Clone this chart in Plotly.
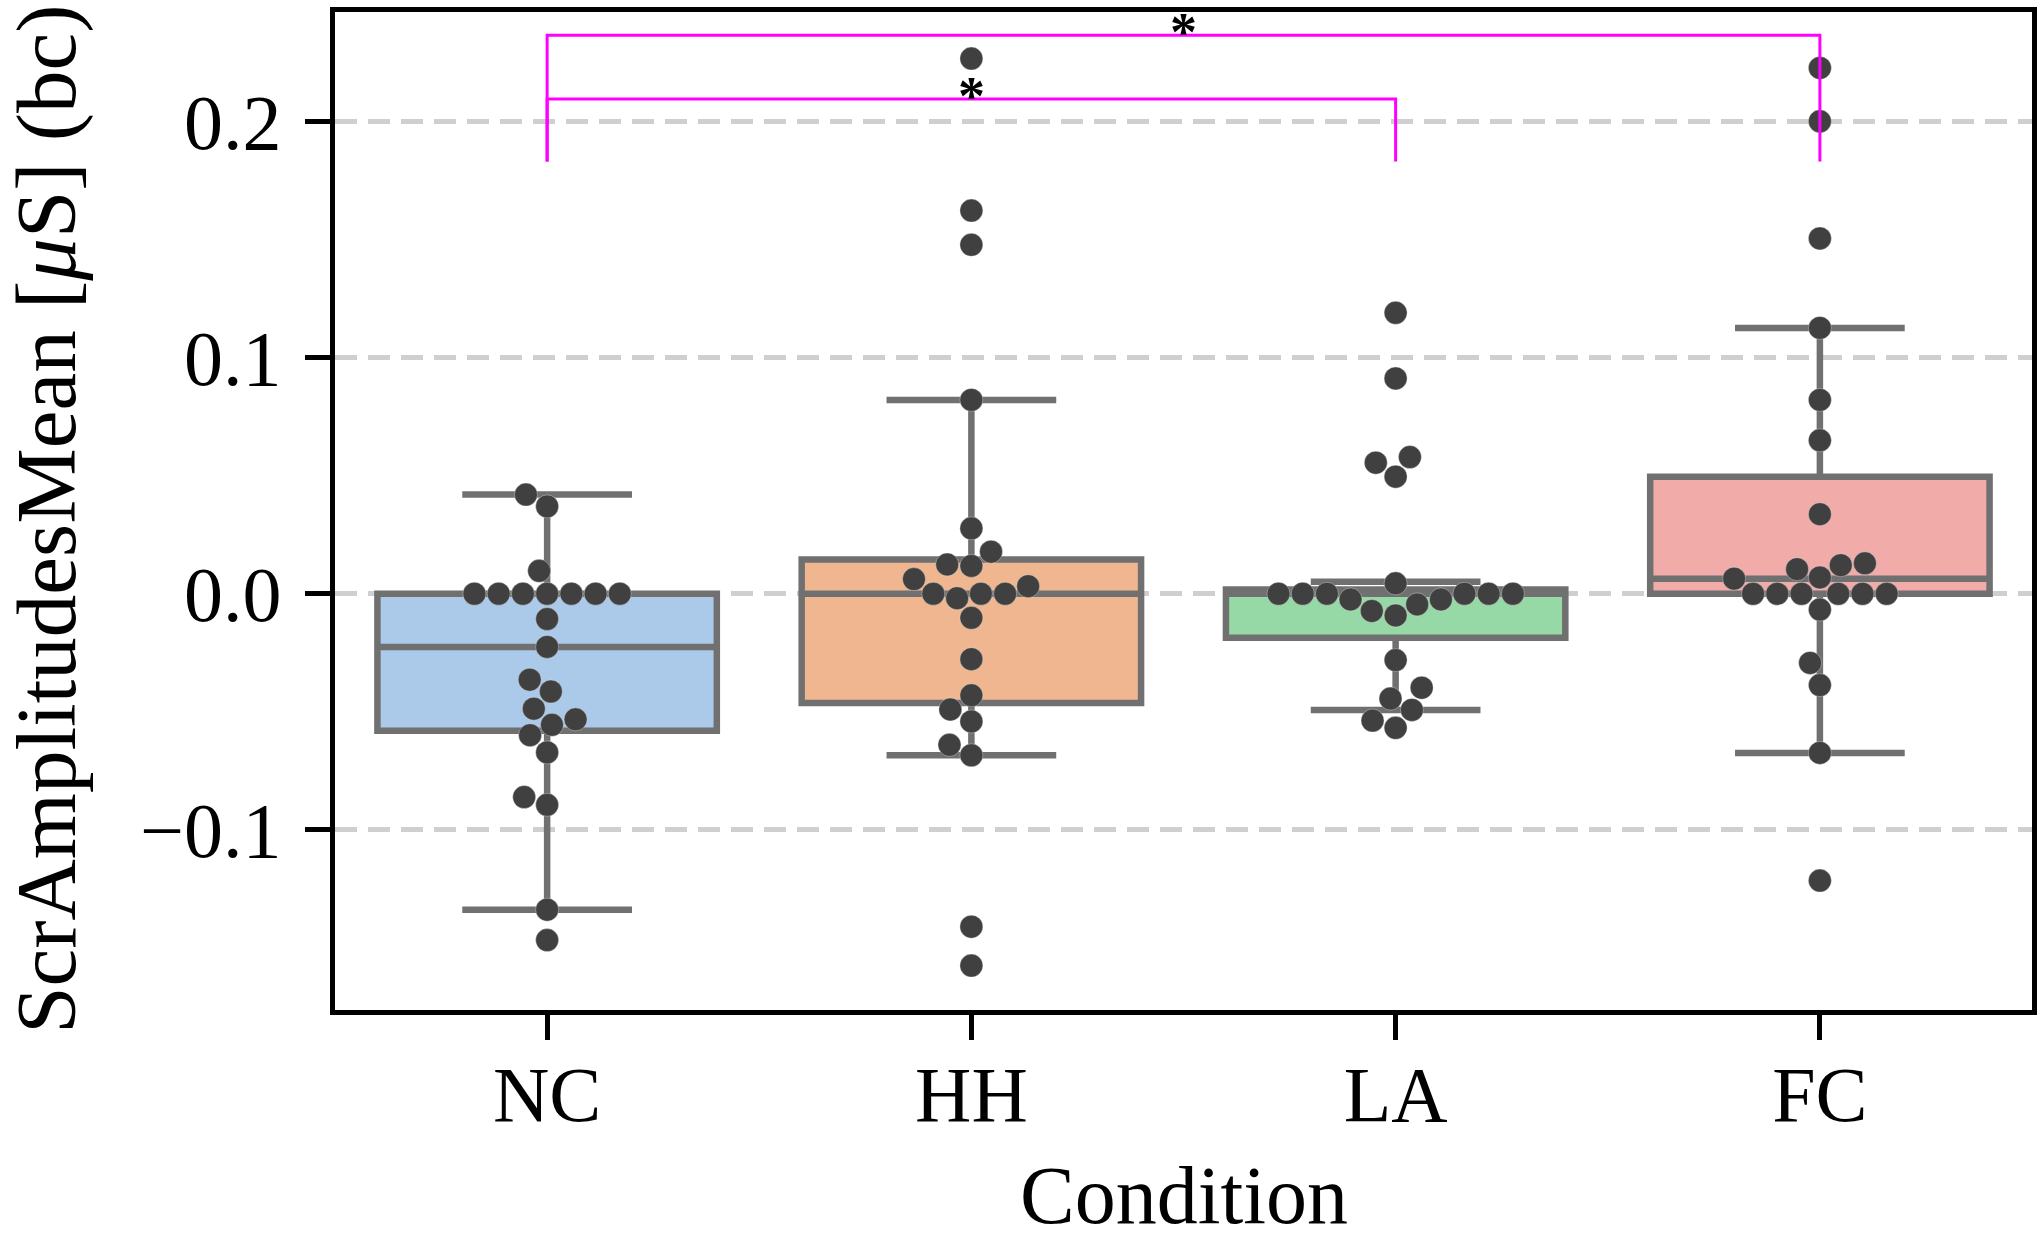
import numpy as np
import plotly.graph_objects as go

# ---------------- data ----------------
categories = ["NC", "HH", "LA", "FC"]

nc_values = [0.042, 0.037, 0.0097, 0, 0, 0, 0, 0, 0, 0, -0.0107, -0.0225, -0.0364,
             -0.0414, -0.0487, -0.0532, -0.0555, -0.0599, -0.0672, -0.0861, -0.0894,
             -0.1338, -0.1467]
hh_values = [0.2267, 0.1623, 0.1478, 0.0821, 0.0277, 0.0178, 0.0124, 0.0118, 0.0062,
             0.0032, 0, -0.0019, 0, 0, -0.0102, -0.0277, -0.043, -0.049, -0.0541,
             -0.064, -0.0684, -0.141, -0.1575]
la_values = [0.119, 0.0912, 0.0579, 0.0555, 0.0496, 0.0044, 0, 0, 0, 0, 0, 0,
             -0.0024, -0.0024, -0.0045, -0.0073, -0.0092, -0.0281, -0.0398, -0.0444,
             -0.0492, -0.0537, -0.0568]
fc_values = [0.2227, 0.2001, 0.1505, 0.1126, 0.0821, 0.065, 0.0337, 0.0129, 0.0121,
             0.0104, 0.0069, 0.0064, 0, 0, 0, 0, 0, 0, -0.0067, -0.0293, -0.0387,
             -0.0674, -0.1215]

# box statistics as drawn (seaborn-style boxes)
box_q1 = [-0.058, -0.0463, -0.0186, 0.0]
box_median = [-0.0225, 0.0, 0.0, 0.0064]
box_q3 = [0.0, 0.0145, 0.0018, 0.0496]
box_low = [-0.1338, -0.0684, -0.0492, -0.0674]
box_high = [0.042, 0.0821, 0.0051, 0.1126]

box_colors = ["#abc9e9", "#f0b690", "#97d9a6", "#f1aba9"]

# significance brackets: (from index, to index, top value, leg bottom value, label)
bracket_from = [0, 0]
bracket_to = [2, 3]
bracket_top = [0.2095, 0.2365]
bracket_leg = [0.1831, 0.1831]
bracket_label = ["*", "*"]

y_ticks = [-0.1, 0.0, 0.1, 0.2]
y_tick_text = ["\u22120.1", "0.0", "0.1", "0.2"]
y_range = [-0.1763, 0.2464]
x_range = [-0.5, 3.5]

# ---------------- layout geometry ----------------
W, H = 2044, 1240
ML, MR, MT, MB = 335, 7, 10, 230
plot_w = W - ML - MR
plot_h = H - MT - MB
ppx = plot_w / (x_range[1] - x_range[0])
ppy = plot_h / (y_range[1] - y_range[0])
DOT = 23
SPACING = 24.3

FONT = "Liberation Serif"
FS = 78


def swarm_offsets(vals, d_px):
    vals = np.asarray(vals, dtype=float)
    order = np.argsort(vals, kind="stable")
    placed = []
    offs = np.zeros(len(vals))
    for i in order:
        y = vals[i] * ppy
        cands = [0.0]
        for (px, py) in placed:
            dy = abs(py - y)
            if dy < d_px:
                dx = np.sqrt(d_px ** 2 - dy ** 2)
                cands += [px + dx, px - dx]
        cands.sort(key=lambda c: (round(abs(c), 6), c))
        chosen = 0.0
        for c in cands:
            if all((c - px) ** 2 + (y - py) ** 2 >= d_px ** 2 - 1e-6 for px, py in placed):
                chosen = c
                break
        placed.append((chosen, y))
        offs[i] = chosen / ppx
    return offs


fig = go.Figure()

all_values = [nc_values, hh_values, la_values, fc_values]

for i, cat in enumerate(categories):
    fig.add_trace(go.Box(
        x=[i], q1=[box_q1[i]], median=[box_median[i]], q3=[box_q3[i]],
        lowerfence=[box_low[i]], upperfence=[box_high[i]],
        width=0.8, whiskerwidth=0.5,
        fillcolor=box_colors[i],
        line=dict(color="#707070", width=6.5),
        boxpoints=False, showlegend=False, name=cat, hoverinfo="skip",
    ))

for i, vals in enumerate(all_values):
    offs = swarm_offsets(vals, SPACING)
    fig.add_trace(go.Scatter(
        x=i + offs, y=vals, mode="markers",
        marker=dict(size=DOT, color="#404040",
                    line=dict(width=1, color="rgba(255,255,255,0.35)")),
        showlegend=False, hoverinfo="skip",
    ))

for a, b, top, leg, lab in zip(bracket_from, bracket_to, bracket_top, bracket_leg, bracket_label):
    fig.add_trace(go.Scatter(
        x=[a, a, b, b], y=[leg, top, top, leg], mode="lines",
        line=dict(color="#ff00ff", width=3), showlegend=False, hoverinfo="skip",
        cliponaxis=False,
    ))
    fig.add_annotation(
        x=(a + b) / 2, y=top, xref="x", yref="y", text="<b>%s</b>" % lab,
        showarrow=False, yanchor="middle", yshift=3, borderpad=0,
        font=dict(family=FONT, size=54, color="black"),
    )

# axis titles as annotations
fig.add_annotation(
    x=-(ML - 46) / plot_w, y=0.492, xref="paper", yref="paper",
    text="ScrAmplitudesMean [<i>\u03bc</i>S] (bc)", textangle=-90,
    showarrow=False, xanchor="center", yanchor="middle",
    font=dict(family=FONT, size=85, color="black"),
)
fig.add_annotation(
    x=0.5, y=1 - (1196 - MT) / plot_h, xref="paper", yref="paper",
    text="Condition", showarrow=False, xanchor="center", yanchor="middle",
    font=dict(family=FONT, size=82, color="black"),
)

fig.update_layout(
    width=W, height=H,
    margin=dict(l=ML, r=MR, t=MT, b=MB, pad=0),
    paper_bgcolor="white", plot_bgcolor="white",
    font=dict(family=FONT, size=FS, color="black"),
)
fig.update_xaxes(
    range=x_range, tickvals=list(range(len(categories))), ticktext=categories,
    showgrid=False, zeroline=False,
    showline=True, linecolor="black", linewidth=5, mirror=True,
    ticks="outside", ticklen=25, tickwidth=5, tickcolor="black",
    tickfont=dict(family=FONT, size=FS, color="black"),
    ticklabelstandoff=-13,
)
fig.update_yaxes(
    range=y_range, tickvals=y_ticks, ticktext=y_tick_text,
    showgrid=True, gridcolor="#cfcfcf", gridwidth=5, griddash="22px,11px",
    zeroline=False,
    showline=True, linecolor="black", linewidth=5, mirror=True,
    ticks="outside", ticklen=25, tickwidth=5, tickcolor="black",
    tickfont=dict(family=FONT, size=FS, color="black"),
    ticklabelstandoff=8,
)

fig.write_html("out.html")
